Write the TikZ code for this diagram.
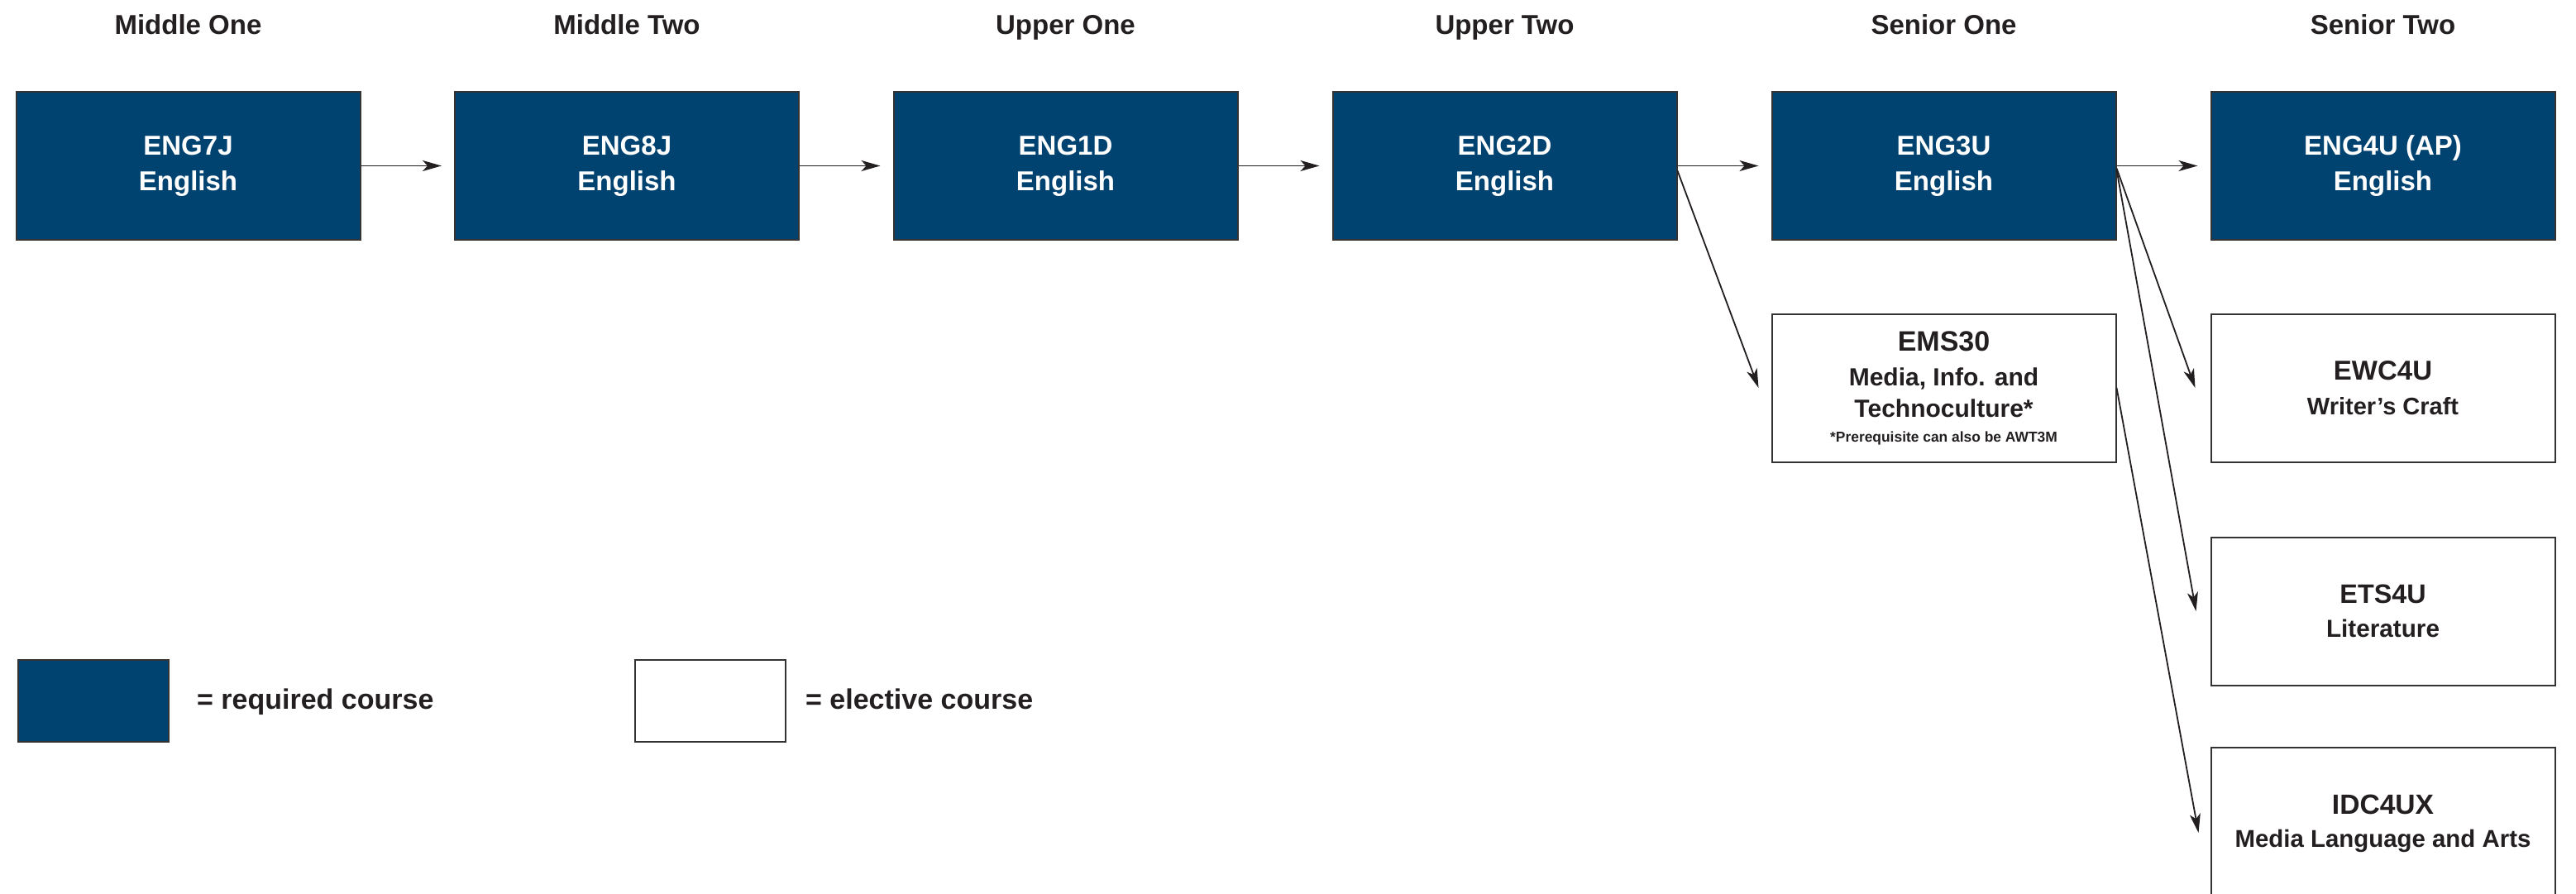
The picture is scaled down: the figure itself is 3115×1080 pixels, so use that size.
\documentclass[tikz,border=0pt]{standalone}
\usepackage{fontspec}
\setmainfont{Liberation Sans}
\usetikzlibrary{arrows.meta}
\definecolor{navy}{RGB}{0,66,112}
\definecolor{ink}{RGB}{35,31,32}
\definecolor{edge}{RGB}{51,51,51}
\begin{document}
\begin{tikzpicture}[x=1pt,y=-1pt,
  req/.style={draw=edge, line width=2pt, fill=navy, text=white, minimum width=416pt, minimum height=179pt, inner sep=0pt, align=center, font=\bfseries\fontsize{33}{43}\selectfont},
  elec/.style={draw=edge, line width=2pt, fill=white, text=ink, minimum width=416pt, minimum height=179pt, inner sep=0pt, align=center},
  hdr/.style={anchor=base, text=ink, font=\bfseries\fontsize{33}{40}\selectfont, inner sep=0pt},
  legbox/.style={draw=edge, line width=2pt, minimum width=182pt, minimum height=99pt, inner sep=0pt},
  legtxt/.style={anchor=base west, text=ink, font=\bfseries\fontsize{34}{40}\selectfont, inner sep=0pt},
  arr/.style={draw=ink, line width=1.8pt, -{Stealth[length=23pt,width=13pt,inset=6pt]}}
]
\fill[white] (0,0) rectangle (3115,1080);
\useasboundingbox (0,0) rectangle (3115,1080);
\clip (0,0) rectangle (3115,1080);

% headers
\node[hdr] (h1) at (227.5,41) {Middle One};
\node[hdr] (h2) at (758,41) {Middle Two};
\node[hdr] (h3) at (1288.5,41) {Upper One};
\node[hdr] (h4) at (1819.5,41) {Upper Two};
\node[hdr] (h5) at (2350.5,41) {Senior One};
\node[hdr] (h6) at (2881.5,41) {Senior Two};

% required courses
\node[req] (eng7j) at (227.5,200.5) {ENG7J\\English};
\node[req] (eng8j) at (758,200.5) {ENG8J\\English};
\node[req] (eng1d) at (1288.5,200.5) {ENG1D\\English};
\node[req] (eng2d) at (1819.5,200.5) {ENG2D\\English};
\node[req] (eng3u) at (2350.5,200.5) {ENG3U\\English};
\node[req] (eng4u) at (2881.5,200.5) {ENG4U (AP)\\English};

% electives
\node[elec, font=\bfseries\fontsize{30}{38}\selectfont] (ems30) at (2350.5,469)
  {{\fontsize{34}{38}\selectfont EMS30}\\[4pt]Media, Info. and\\Technoculture*\\[-8pt]{\fontsize{17.4}{20}\selectfont *Prerequisite can also be AWT3M}};
\node[elec, font=\bfseries\fontsize{33}{42}\selectfont] (ewc4u) at (2881.5,469)
  {EWC4U\\{\fontsize{29}{42}\selectfont Writer’s Craft}};
\node[elec, font=\bfseries\fontsize{32.3}{41}\selectfont] (ets4u) at (2881.5,739)
  {ETS4U\\{\fontsize{29.7}{41}\selectfont Literature}};
\node[elec, minimum height=184pt, font=\bfseries\fontsize{33.6}{40}\selectfont] (idc4ux) at (2881.5,996)
  {IDC4UX\\{\fontsize{29.4}{40}\selectfont Media Language and Arts}};

% legend
\node[legbox, fill=navy] (legreq) at (113,847.5) {};
\node[legtxt] (legreqtxt) at (238,857) {= required course};
\node[legbox, fill=white] (legel) at (859,847.5) {};
\node[legtxt] (legeltxt) at (974,857) {= elective course};

% arrows
\draw[arr] (eng7j.east) -- ([xshift=-15pt]eng8j.west);
\draw[arr] (eng8j.east) -- ([xshift=-15pt]eng1d.west);
\draw[arr] (eng1d.east) -- ([xshift=-15pt]eng2d.west);
\draw[arr] (eng2d.east) -- ([xshift=-15pt]eng3u.west);
\draw[arr] (eng3u.east) -- ([xshift=-15pt]eng4u.west);
\draw[arr] ([yshift=-6pt]eng2d.east) -- ([xshift=-15pt]ems30.west);
\draw[arr] ([yshift=-3pt]eng3u.east) -- ([xshift=-18pt]ewc4u.west);
\draw[arr] ([yshift=-5pt]eng3u.east) -- ([xshift=-17pt]ets4u.west);
\draw[arr] (ems30.east) -- ([xshift=-14pt,yshift=-11pt]idc4ux.west);
\end{tikzpicture}
\end{document}
